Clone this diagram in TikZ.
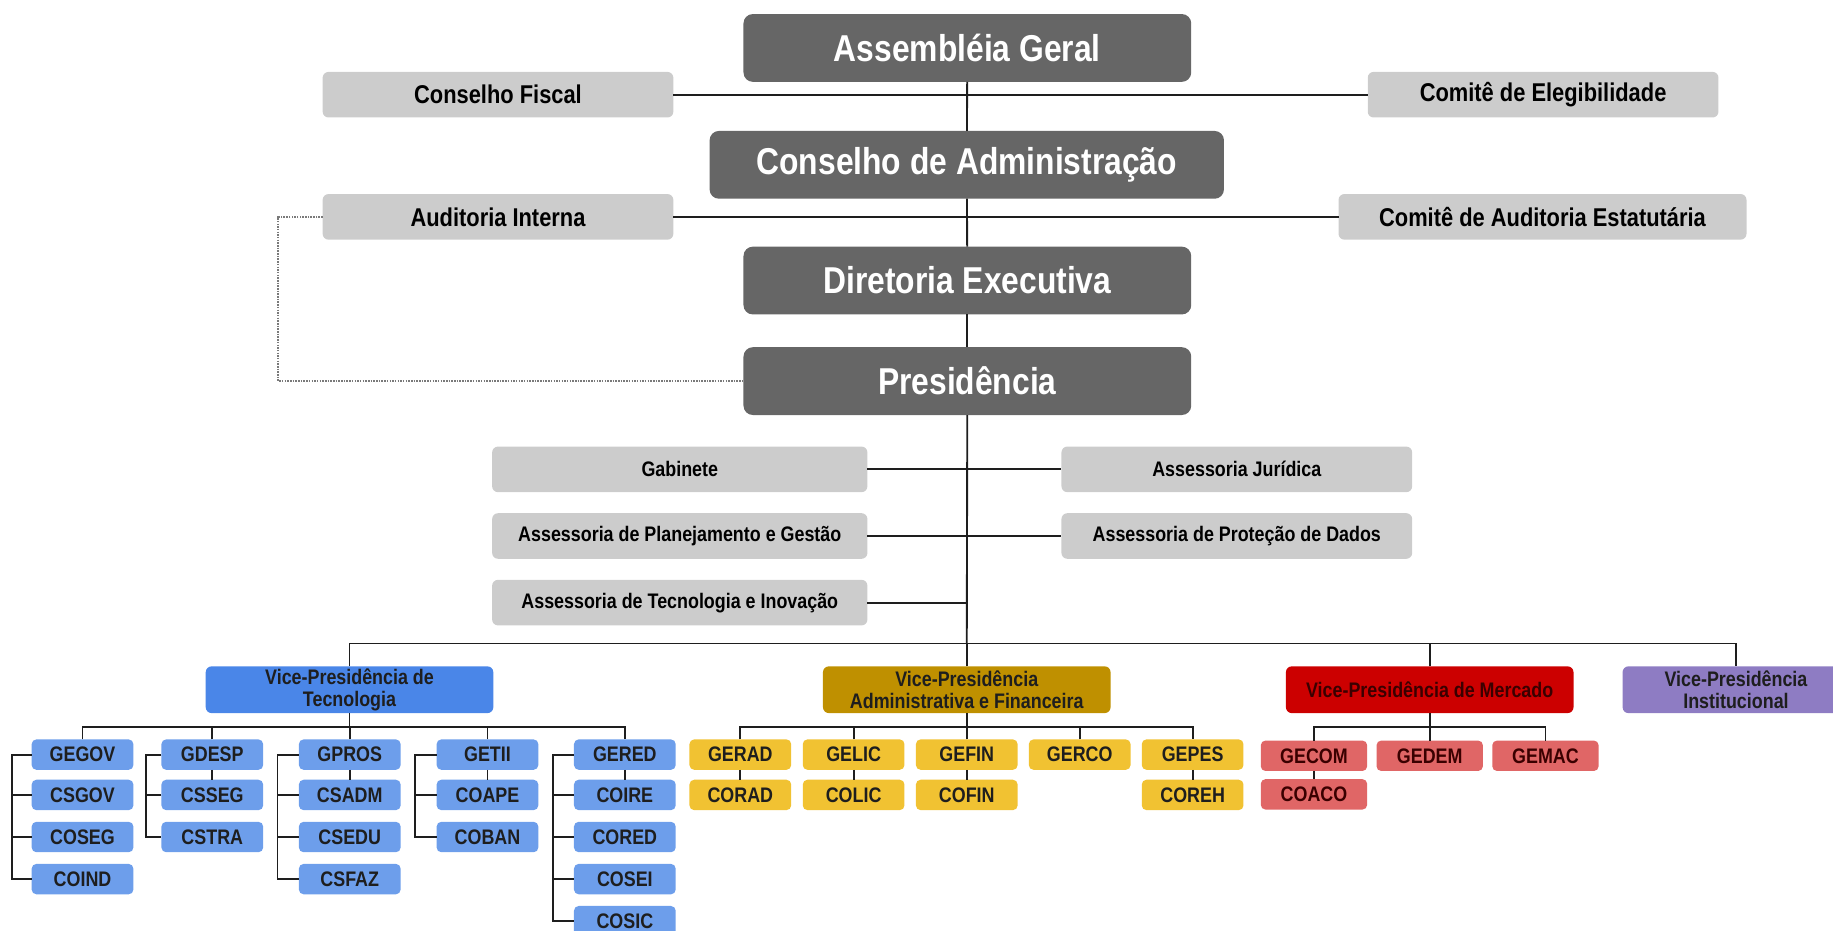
\documentclass[tikz,border=0pt]{standalone}
\usepackage{fontspec}
\setmainfont[FakeStretch=0.85]{Liberation Sans}
\definecolor{dkgray}{HTML}{666666}
\definecolor{ltgray}{HTML}{CCCCCC}
\definecolor{vpblue}{HTML}{4A86E8}
\definecolor{chblue}{HTML}{6D9EEB}
\definecolor{vpgold}{HTML}{BF9000}
\definecolor{chgold}{HTML}{F1C232}
\definecolor{vpred}{HTML}{CC0000}
\definecolor{chred}{HTML}{E06666}
\definecolor{vppurple}{HTML}{8E7CC3}
\definecolor{lnk}{HTML}{1E1E1E}
\definecolor{redtxt}{HTML}{3A0000}
\definecolor{dotgray}{HTML}{7A7A7A}
\begin{document}
\begin{tikzpicture}[x=1pt,y=-1pt,
  base/.style={inner sep=0pt, outer sep=0pt, align=center},
  dk/.style={base, fill=dkgray, text=white, rounded corners=8pt, minimum height=58pt,
     font=\bfseries\fontsize{32}{36}\selectfont},
  lg/.style={base, fill=ltgray, text=black, rounded corners=5pt, minimum height=39pt,
     font=\bfseries\fontsize{22}{26}\selectfont},
  lgs/.style={base, fill=ltgray, text=black, rounded corners=5pt, minimum height=39pt,
     font=\bfseries\fontsize{18}{20}\selectfont},
  vp/.style={base, rounded corners=5pt, minimum height=40pt, minimum width=246pt,
     text=lnk, font=\bfseries\fontsize{18}{18.5}\selectfont},
  ch/.style={base, rounded corners=4pt, minimum height=26pt, minimum width=87pt,
     text=lnk, font=\bfseries\fontsize{18}{20}\selectfont},
  blc/.style={ch, fill=chblue},
  ylc/.style={ch, fill=chgold},
  rdc/.style={ch, fill=chred, minimum width=91pt, text=redtxt},
  ln/.style={draw=lnk, line width=1.6pt},
  dotln/.style={draw=dotgray, densely dotted, line width=1.3pt}]

\useasboundingbox (0,0) rectangle (1568,796);

% ---- top governance ----
\node[dk, minimum width=383pt] (ag) at (827.5,41) {Assembléia Geral};
\node[dk, minimum width=440pt] (ca) at (827,141) {Conselho de Administração};
\node[dk, minimum width=383pt] (de) at (827.5,240) {Diretoria Executiva};
\node[dk, minimum width=383pt] (pr) at (827.5,326) {Presidência};

\node[lg, minimum width=300pt] (cf) at (426,81) {Conselho Fiscal};
\node[lg, minimum width=300pt] (ce) at (1320,81) {Comitê de Elegibilidade};
\node[lg, minimum width=300pt] (ai) at (426,185.5) {Auditoria Interna};
\node[lg, minimum width=349pt] (cae) at (1319.5,185.5) {Comitê de Auditoria Estatutária};

% ---- advisory ----
\node[lgs, minimum width=321pt] (gab) at (581.5,401.5) {Gabinete};
\node[lgs, minimum width=300pt] (aj) at (1058,401.5) {Assessoria Jurídica};
\node[lgs, minimum width=321pt] (apg) at (581.5,458.5) {Assessoria de Planejamento e Gestão};
\node[lgs, minimum width=300pt] (apd) at (1058,458.5) {Assessoria de Proteção de Dados};
\node[lgs, minimum width=321pt] (ati) at (581.5,515.5) {Assessoria de Tecnologia e Inovação};

% ---- vice-presidencies ----
\node[vp, fill=vpblue] (vpt) at (299,590) {Vice-Presidência de\\Tecnologia};
\node[vp, fill=vpgold] (vpaf) at (827,590) {Vice-Presidência\\Administrativa e Financeira};
\node[vp, fill=vpred, text=redtxt] (vpm) at (1223,590) {Vice-Presidência de Mercado};
\node[vp, fill=vppurple, minimum width=194pt] (vpi) at (1485,590) {Vice-Presidência\\Institucional};

% ---- blue children ----
\node[blc] (gegov) at (70.6,645.5) {GEGOV};
\node[blc] (csgov) at (70.6,680) {CSGOV};
\node[blc] (coseg) at (70.6,716) {COSEG};
\node[blc] (coind) at (70.6,752) {COIND};

\node[blc] (gdesp) at (181.6,645.5) {GDESP};
\node[blc] (csseg) at (181.6,680) {CSSEG};
\node[blc] (cstra) at (181.6,716) {CSTRA};

\node[blc] (gpros) at (299.2,645.5) {GPROS};
\node[blc] (csadm) at (299.2,680) {CSADM};
\node[blc] (csedu) at (299.2,716) {CSEDU};
\node[blc] (csfaz) at (299.2,752) {CSFAZ};

\node[blc] (getii) at (417,645.5) {GETII};
\node[blc] (coape) at (417,680) {COAPE};
\node[blc] (coban) at (417,716) {COBAN};

\node[blc] (gered) at (534.5,645.5) {GERED};
\node[blc] (coire) at (534.5,680) {COIRE};
\node[blc] (cored) at (534.5,716) {CORED};
\node[blc] (cosei) at (534.5,752) {COSEI};
\node[blc] (cosic) at (534.5,788) {COSIC};

% ---- gold children ----
\node[ylc] (gerad) at (633.3,645.5) {GERAD};
\node[ylc] (corad) at (633.3,680) {CORAD};
\node[ylc] (gelic) at (730.2,645.5) {GELIC};
\node[ylc] (colic) at (730.2,680) {COLIC};
\node[ylc] (gefin) at (827,645.5) {GEFIN};
\node[ylc] (cofin) at (827,680) {COFIN};
\node[ylc] (gerco) at (923.6,645.5) {GERCO};
\node[ylc] (gepes) at (1020.2,645.5) {GEPES};
\node[ylc] (coreh) at (1020.2,680) {COREH};

% ---- red children ----
\node[rdc] (gecom) at (1124,646.5) {GECOM};
\node[rdc] (coaco) at (1124,679.5) {COACO};
\node[rdc] (gedem) at (1223,646.5) {GEDEM};
\node[rdc] (gemac) at (1322,646.5) {GEMAC};

% ---- coordinates ----
\coordinate (bus) at (827,550.5);
\coordinate (tb) at (0,622);
\coordinate (bk1) at (10.3,0);
\coordinate (bk2) at (125.2,0);
\coordinate (bk3) at (237.4,0);
\coordinate (bk4) at (355,0);
\coordinate (bk5) at (473.3,0);

% ---- connectors: top ----
\draw[ln] (ag) -- (ca);
\draw[ln] (ca) -- (de);
\draw[ln] (de) -- (pr);
\draw[ln] (pr) -- (bus);
\draw[ln] (cf) -- (ce);
\draw[ln] (ai) -- (cae);
\draw[dotln] (ai.west) -- ++(-38,0) |- (pr.west);

% ---- advisory connectors ----
\draw[ln] (gab) -- (aj);
\draw[ln] (apg) -- (apd);
\draw[ln] (ati.east) -- (ati.east -| bus);

% ---- VP bus ----
\draw[ln] (vpt.north) |- (bus) -| (vpi.north);
\draw[ln] (vpaf.north) -- (bus);
\draw[ln] (vpm.north) -- (vpm.north |- bus);

% ---- blue tree ----
\draw[ln] (vpt.south) -- (vpt.south |- tb);
\draw[ln] (gegov.north) -- (gegov |- tb) -- (gered |- tb) -- (gered.north);
\draw[ln] (gdesp.north) -- (gdesp |- tb);
\draw[ln] (gpros.north) -- (gpros |- tb);
\draw[ln] (getii.north) -- (getii |- tb);

\draw[ln] (gegov.west) -- (gegov.west -| bk1) |- (coind.west);
\draw[ln] (csgov.west) -- (csgov.west -| bk1);
\draw[ln] (coseg.west) -- (coseg.west -| bk1);

\draw[ln] (gdesp.west) -- (gdesp.west -| bk2) |- (cstra.west);
\draw[ln] (csseg.west) -- (csseg.west -| bk2);
\draw[ln] (gdesp) -- (csseg);

\draw[ln] (gpros.west) -- (gpros.west -| bk3) |- (csfaz.west);
\draw[ln] (csadm.west) -- (csadm.west -| bk3);
\draw[ln] (csedu.west) -- (csedu.west -| bk3);
\draw[ln] (gpros) -- (csadm);

\draw[ln] (getii.west) -- (getii.west -| bk4) |- (coban.west);
\draw[ln] (coape.west) -- (coape.west -| bk4);
\draw[ln] (getii) -- (coape);

\draw[ln] (gered.west) -- (gered.west -| bk5) |- (cosic.west);
\draw[ln] (coire.west) -- (coire.west -| bk5);
\draw[ln] (cored.west) -- (cored.west -| bk5);
\draw[ln] (cosei.west) -- (cosei.west -| bk5);
\draw[ln] (gered) -- (coire);

% ---- gold tree ----
\draw[ln] (vpaf.south) -- (vpaf.south |- tb);
\draw[ln] (gerad.north) -- (gerad |- tb) -- (gepes |- tb) -- (gepes.north);
\draw[ln] (gelic.north) -- (gelic |- tb);
\draw[ln] (gefin.north) -- (gefin |- tb);
\draw[ln] (gerco.north) -- (gerco |- tb);
\draw[ln] (gerad) -- (corad);
\draw[ln] (gelic) -- (colic);
\draw[ln] (gefin) -- (cofin);
\draw[ln] (gepes) -- (coreh);

% ---- red tree ----
\draw[ln] (vpm.south) -- (vpm.south |- tb);
\draw[ln] (gecom.north) -- (gecom |- tb) -- (gemac |- tb) -- (gemac.north);
\draw[ln] (gedem.north) -- (gedem |- tb);
\draw[ln] (gecom) -- (coaco);

\end{tikzpicture}
\end{document}
